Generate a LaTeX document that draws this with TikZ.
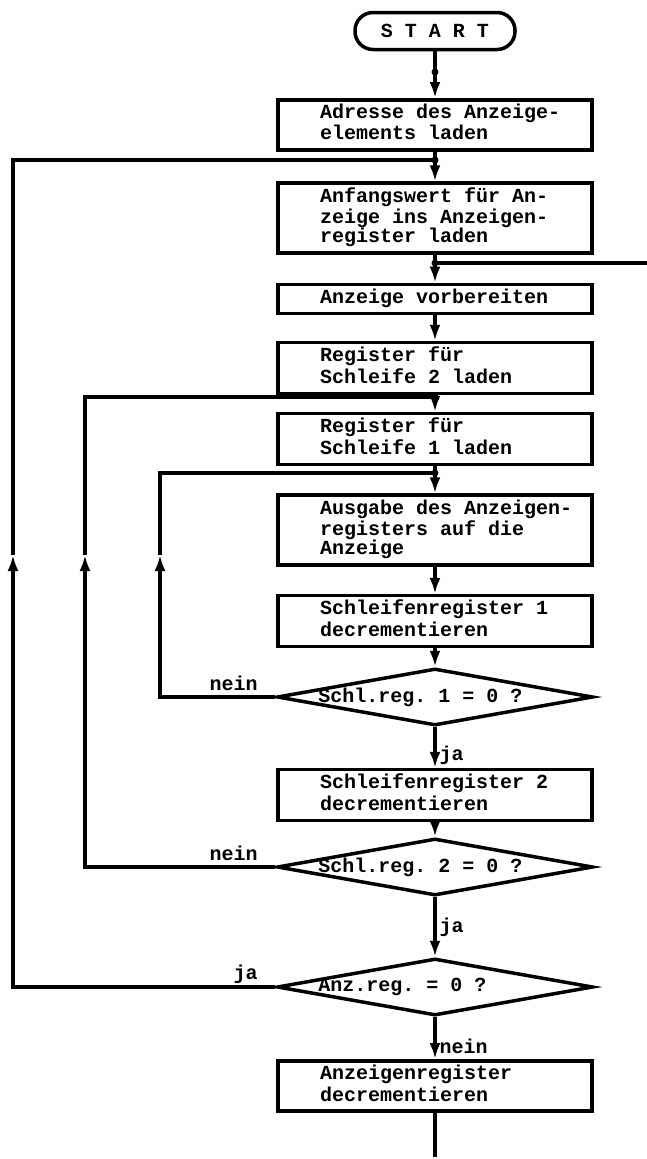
\documentclass[tikz,border=0pt]{standalone}
\usepackage{fontspec}
\setmonofont{Liberation Mono}
\usetikzlibrary{
  arrows.meta,
  positioning,
  shapes.geometric,
}
\tikzstyle{line} = [
  line width=3.2pt,
]
\tikzstyle{flow} = [
  line,
  -{Latex[length=16pt,width=11pt]},
]

\begin{document}
\begin{tikzpicture}[x=1pt, y=1pt,
    every node/.style={font=\ttfamily\bfseries\fontsize{20}{19}\selectfont},
    term/.style={draw, line width=3.5pt, rounded corners=18pt,
                 minimum width=160pt, minimum height=37pt},
    box/.style={draw, line width=3.5pt, text width=314pt,
                inner xsep=0pt, inner ysep=4.5pt, align=left,
                execute at begin node={\leftskip=42pt\spaceskip=0pt
                                       \xspaceskip=0pt\relax\strut},
                execute at end node={\strut}},
    query/.style={diamond, draw, line width=3.5pt, inner sep=0pt,
                  minimum width=316pt, minimum height=57pt},
    cond/.style={anchor=west, xshift=43pt, inner sep=0pt},
    lbl/.style={inner sep=1pt}]
    \useasboundingbox (0,0) rectangle (647,-1159);

    % main column
    \node [term] (start) at (435,-31) {S T A R T};
    \node [box] (adr) at (435,-125) {Adresse des Anzeige-\\elements laden};
    \node [box] (anf) at (435,-218)
          {Anfangswert für An-\\zeige ins Anzeigen-\\register laden};
    \node [box] (vor) at (435,-299) {Anzeige vorbereiten};
    \node [box] (reg2) at (435,-368) {Register für\\Schleife 2 laden};
    \node [box] (reg1) at (435,-439) {Register für\\Schleife 1 laden};
    \node [box] (aus) at (435,-530)
          {Ausgabe des Anzeigen-\\registers auf die\\Anzeige};
    \node [box] (sr1) at (435,-621) {Schleifenregister 1\\decrementieren};
    \node [query, label={[cond]west:Schl.reg. 1 = 0 ?}] (q1) at (435,-697) {};
    \node [box] (sr2) at (435,-795) {Schleifenregister 2\\decrementieren};
    \node [query, label={[cond]west:Schl.reg. 2 = 0 ?}] (q2) at (435,-867) {};
    \node [query, label={[cond]west:Anz.reg. = 0 ?}] (q3) at (435,-987) {};
    \node [box] (anz) at (435,-1086) {Anzeigenregister\\decrementieren};

    % junctions and loose ends
    \coordinate (j0) at (435,-72);
    \coordinate (j1) at (435,-160);
    \coordinate (j2) at (435,-263);
    \coordinate (j3) at (435,-397);
    \coordinate (j4) at (435,-473);
    \coordinate (ret) at (647,-263);
    \coordinate (stop) at (435,-1157);
    \coordinate (up1) at (160,-555);
    \coordinate (up2) at (85,-555);
    \coordinate (up3) at (13,-555);

    \draw [flow] (start) -- (adr);
    \draw [flow] (adr) -- (anf);
    \draw [flow] (anf) -- (vor);
    \draw [line] (j2) -- (ret);
    \draw [flow] (vor) -- (reg2);
    \draw [flow] (reg2) -- (reg1);
    \draw [flow] (reg1) -- (aus);
    \draw [flow] (aus) -- (sr1);
    \draw [flow] (sr1) -- (q1);
    \draw [flow] (q1) -- node [lbl, right, pos=0.7, xshift=2pt] {ja} (sr2);
    \draw [flow] (sr2) -- (q2);
    \draw [flow] (q2) -- node [lbl, right, pos=0.5, xshift=2pt] {ja} (q3);
    \draw [flow] (q3) -- node [lbl, right, pos=0.7, xshift=2pt] {nein} (anz);
    \draw [line] (anz) -- (stop);

    % loops back on the left
    \draw [flow] (q1.west) node [lbl, above left=4pt and 15pt] {nein} -| (up1);
    \draw [line] (up1) |- (j4);
    \draw [flow] (q2.west) node [lbl, above left=4pt and 15pt] {nein} -| (up2);
    \draw [line] (up2) |- (j3);
    \draw [flow] (q3.west) node [lbl, above left=1pt and 15pt] {ja} -| (up3);
    \draw [line] (up3) |- (j1);

    \foreach \j in {j0,j1,j2,j3,j4}
      \fill (\j) circle (3.5pt);
  \end{tikzpicture}
\end{document}
